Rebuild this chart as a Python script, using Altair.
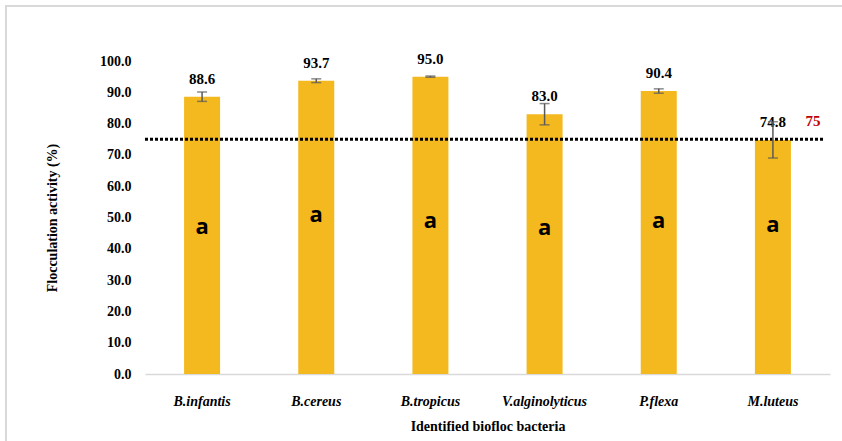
import altair as alt
import pandas as pd

bacteria = ["B.infantis", "B.cereus", "B.tropicus", "V.alginolyticus", "P.flexa", "M.luteus"]
activity = [88.6, 93.7, 95.0, 83.0, 90.4, 74.8]
error = [1.5, 0.6, 0.2, 3.4, 0.7, 5.8]
letters = ["a", "a", "a", "a", "a", "a"]
letter_y = [47.1, 50.8, 48.9, 46.6, 48.9, 47.6]
threshold = 75
y_ticks = [0, 10, 20, 30, 40, 50, 60, 70, 80, 90, 100]

df = pd.DataFrame({
    "bacteria": bacteria,
    "activity": activity,
    "lo": [a - e for a, e in zip(activity, error)],
    "hi": [a + e for a, e in zip(activity, error)],
    "letter": letters,
    "letter_y": letter_y,
    "label": [f"{a:.1f}" for a in activity],
})

SERIF = "Liberation Serif"

xaxis = alt.Axis(title="Identified biofloc bacteria", labelAngle=0,
                 labelFontStyle="italic", labelPadding=20, titlePadding=11,
                 ticks=False, domainColor="#d9d9d9", domainWidth=1.5)
xscale = alt.Scale(paddingInner=0, paddingOuter=0)
yaxis = alt.Axis(title="Flocculation activity (%)", values=y_ticks, format=".1f",
                 grid=False, domain=False, ticks=False, labelOverlap=False,
                 labelPadding=14, titlePadding=40)
yscale = alt.Scale(domain=[0, 100], nice=False)


def X():
    return alt.X("bacteria:N", sort=bacteria, scale=xscale, axis=xaxis)


def Y(field):
    return alt.Y(field, scale=yscale, axis=yaxis)


base = alt.Chart(df)

bars = base.mark_bar(color="#F4B91E", size=36).encode(x=X(), y=Y("activity:Q"))

labels = base.mark_text(font=SERIF, fontWeight="bold", fontSize=15, color="#000000",
                        baseline="middle", dy=-18).encode(
    x=X(), y=Y("activity:Q"), text="label:N")

letter_text = base.mark_text(font="Open Sans", fontWeight="bold", fontSize=22,
                             color="#000000", baseline="middle").encode(
    x=X(), y=Y("letter_y:Q"), text="letter:N")

err_rule = base.mark_rule(color="#595959", strokeWidth=1.5).encode(
    x=X(), y=Y("lo:Q"), y2="hi:Q")
cap_lo = base.mark_tick(color="#595959", size=10, thickness=1.5).encode(
    x=X(), y=Y("lo:Q"))
cap_hi = base.mark_tick(color="#595959", size=10, thickness=1.5).encode(
    x=X(), y=Y("hi:Q"))

thr = pd.DataFrame({"t": [threshold], "tl": [str(threshold)]})
thr_line = alt.Chart(thr).mark_rule(color="#000000", strokeWidth=3, strokeDash=[3, 2]).encode(
    y=Y("t:Q"), x=alt.value(0), x2=alt.value(679))
thr_text = alt.Chart(thr).mark_text(font=SERIF, fontWeight="bold", fontSize=15,
                                    color="#C00000", baseline="middle", dy=-18).encode(
    y=Y("t:Q"), x=alt.value(668), text="tl:N")

border_left = alt.Chart(thr).mark_rule(color="#d9d9d9", strokeWidth=2).encode(
    x=alt.value(-139), y=alt.value(-56), y2=alt.value(390))
border_top = alt.Chart(thr).mark_rule(color="#d9d9d9", strokeWidth=2).encode(
    x=alt.value(-140), x2=alt.value(700), y=alt.value(-55))

chart = alt.layer(
    bars, labels, letter_text, thr_line, thr_text,
    err_rule, cap_lo, cap_hi, border_left, border_top
).properties(
    width=685, height=313,
    autosize=alt.AutoSizeParams(type="none"),
    padding={"left": 145, "top": 61, "right": 12, "bottom": 67},
    background="#ffffff",
).configure_view(strokeWidth=0, stroke=None).configure_axis(
    labelFont=SERIF, labelFontWeight="bold", labelFontSize=14, labelColor="#000000",
    titleFont=SERIF, titleFontWeight="bold", titleFontSize=14, titleColor="#000000",
)

chart.save("out.html", embed_options={"renderer": "svg", "actions": False})
